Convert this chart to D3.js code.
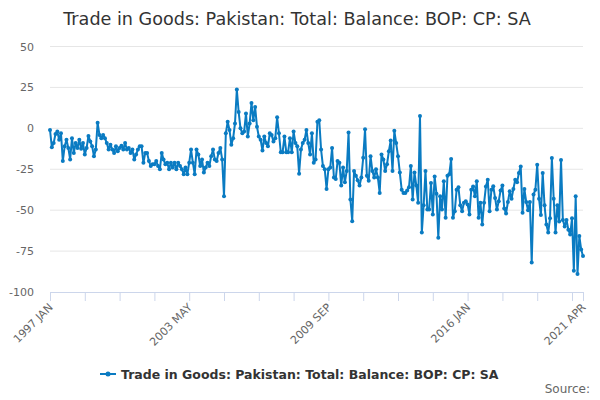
<!DOCTYPE html>
<html><head><meta charset="utf-8">
<script src="https://cdn.jsdelivr.net/npm/d3@7"></script>
<style>
body{margin:0;background:#fff;}
text{font-family:"DejaVu Sans",sans-serif;}
</style></head>
<body><svg id="chart" width="600" height="400"></svg>
<script>
const title = "Trade in Goods: Pakistan: Total: Balance: BOP: CP: SA";
const seriesName = "Trade in Goods: Pakistan: Total: Balance: BOP: CP: SA";
const startYear = 1997, startMonth = 0;
const monthNames = ["JAN","FEB","MAR","APR","MAY","JUN","JUL","AUG","SEP","OCT","NOV","DEC"];
const yTicks = [50, 25, 0, -25, -50, -75, -100];
const labelMonths = [0, 76, 152, 228, 291];
const tickStep = 19;

const bal1997_2000 = [-1,-11.5,-9,-3.5,-2,-7,-3,-20,-11,-7,-12,-19,-6,-15,-9,-12,-7,-12.5,-9,-16,-12,-4.7,-8,-11,-17,-13,
 3.4,-4,-6,-4,-6,-9,-13,-10,-13,-15,-11,-14,-12,-10.7,-13,-9,-13];
const bal2000_2004 = [-12,-15,-13,-19,-16,-13,-11,-11,-21,-15,-15,-20,-23,-22,-22,-20,-23,-25,-15,-19,-22,-21,-25,-21,-24,-21,-25,-21,-23,-25,-28,-24,-28,-21,-13,-21,-28,-13,-16,-23,-19,-27,-24,-21,-23,-17,-13,-19,-20,-15,-12,-19,-41.5];
const bal2005_2009 = [-3,4,-1,-10,-6,3,23.7,10,0,-3,-2,9,-5,3,15.5,5,13,1,-5,-7,-13.6,-5,-9,-11,-3,-4,-8,-6,6.7,-3,-14.6,-14.6,-5,-14.6,-14.6,-6,-14.6,-2,-9,-11,-27.7,-13,-9,-7,-1,-9,-16,-3,-21,-19,4,5];
const bal2009_2013 = [-13,-23,-25,-37,-25,-24,-12,-30,-31,-20,-21,-35,-24,-33,-26,-2.6,-43.5,-56.7,-26,-29,-31.7,-35,-30,-18,-0.6,-29,-32,-17,-26,-30,-25,-30,-39.5,-16,-19,-26,-22,-14,-7.5,-26,-1.5,-9,-17,-27,-37.5,-39.5,-39.5,-38,-36,-23];
const bal2013_2017 = [-43.5,-27,-35,-45.5,7.5,-63.7,-47,-26,-49.6,-49.6,-33.4,-52.6,-29.4,-40,-66.8,-41.5,-49.6,-32.4,-54.6,-29,-28,-18.8,-54.6,-50.6,-37.5,-36,-47,-50.6,-45.5,-44.5,-46.5,-52.6,-37.5,-35.5,-41.5,-32.4,-54.6,-45.5,-58.7,-45.5,-35.5,-31.4,-50.6,-37.5,-35.4,-42.5,-49.6,-44.5];
const bal2017_2021 = [-38,-35,-49,-52,-45,-38.5,-43,-37,-31.4,-33,-27.3,-23.3,-51.6,-37,-45,-50,-45,-82,-40.5,-37.5,-22.3,-43,-53,-27.3,-47,-58.7,-63.7,-55,-18.2,-43,-63.7,-47,-57,-19.3,-56,-60,-56,-62,-64.8,-55,-87,-41.5,-89,-65.8,-74,-78];

const balance = [].concat(bal1997_2000, bal2000_2004, bal2005_2009, bal2009_2013, bal2013_2017, bal2017_2021);
const data = balance.map((v,i)=>({i, v}));
const n = balance.length;
function monthLabel(i){ const t = startMonth + i; return (startYear + Math.floor(t/12)) + " " + monthNames[t%12]; }

const svg = d3.select("#chart");
const color = "#0a7bc2";
const x = d3.scaleLinear().domain([0, n-1]).range([50, 583]);
const y = d3.scaleLinear().domain([-100, 50]).range([292, 46.5]);

svg.append("text").attr("x", 297).attr("y", 25).attr("text-anchor","middle")
  .attr("font-size", 17.6).attr("fill","#333").text(title);

// grid
svg.append("g").selectAll("line").data(yTicks.filter(t=>t!==-100)).join("line")
  .attr("x1",50).attr("x2",583).attr("y1",d=>y(d)).attr("y2",d=>y(d))
  .attr("stroke","#e6e6e6").attr("stroke-width",1);

// y labels
svg.append("g").selectAll("text").data(yTicks).join("text")
  .attr("x",34).attr("y",d=>y(d)+4).attr("text-anchor","end")
  .attr("font-size",11).attr("fill","#666").text(d=>d);

// x axis
const tickIdx = d3.range(0, n, tickStep).concat([n-1]);
const xAxis = d3.axisBottom(x).tickValues(tickIdx).tickSize(9).tickFormat(d=> labelMonths.includes(d) ? monthLabel(d) : "");
const gx = svg.append("g").attr("transform","translate(0,292)").call(xAxis);
gx.select(".domain").attr("stroke","#ccd6eb");
gx.selectAll(".tick line").attr("stroke","#ccd6eb");
gx.selectAll(".tick text").attr("font-size",11).attr("fill","#666")
  .attr("font-family","DejaVu Sans, sans-serif")
  .attr("text-anchor","end").attr("dy",0).attr("y",0)
  .attr("transform","translate(3,16) rotate(-45)");

// line
const line = d3.line().x(d=>x(d.i)).y(d=>y(d.v));
svg.append("path").datum(data).attr("d",line).attr("fill","none")
  .attr("stroke",color).attr("stroke-width",2).attr("stroke-linejoin","round");
svg.append("g").selectAll("circle").data(data).join("circle")
  .attr("cx",d=>x(d.i)).attr("cy",d=>y(d.v)).attr("r",2).attr("fill",color);

// legend
const lg = svg.append("g").attr("transform","translate(100,374)");
lg.append("line").attr("x1",0).attr("x2",16).attr("y1",0).attr("y2",0).attr("stroke",color).attr("stroke-width",2);
lg.append("circle").attr("cx",8).attr("cy",0).attr("r",2.5).attr("fill",color);
lg.append("text").attr("x",21).attr("y",4.5).attr("font-size",12.5).attr("font-weight","bold").attr("fill","#333").text(seriesName);

svg.append("text").attr("x",590).attr("y",393).attr("text-anchor","end").attr("font-size",12).attr("fill","#666").text("Source:");
</script></body></html>
